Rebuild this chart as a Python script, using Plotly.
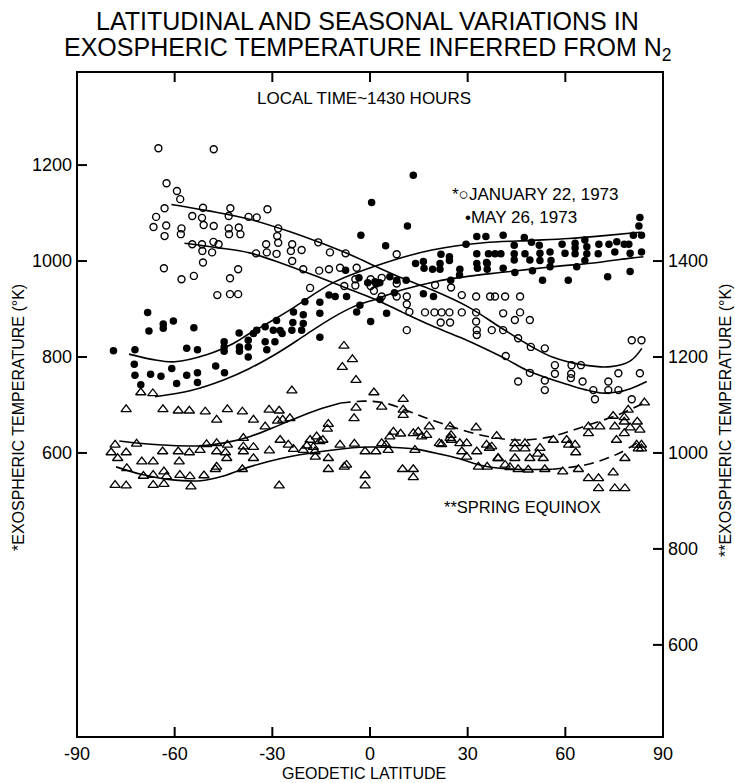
import plotly.graph_objects as go

# ---------------- data ----------------
# January 22, 1973  (open circles, left axis, deg K)
jan_lat = [-65, -48, -62.5, -59.3, -58.3, -63.1, -65.7, -66.5, -62.6, -63.1, -57.9, -58.1, -54.6, -51.3,
           -51.6, -51.1, -48, -43.4, -42.9, -43.4, -43.3, -40.3, -39.8, -37.3, -63.3, -57.9, -54.1, -54.6,
           -51.6, -51.5, -51.3, -48.5, -48.1, -46.5, -43, -40.5, -46.9, -43, -40.5,
           -31.5, -34.8, -28.2, -28.5, -28.2, -31.9, -31.7, -28.7, -35, -23.9, -24.3, -21, -23.9, -20.5,
           -15.9, -12.3, -15.6, -12.6, -9.2, -7.5, -18.4, -4.1, -4.5, -4.5, -7.9, 0.2, 0.2, 3.6, 1.2, 3.6,
           8.2, 8.2, 8.2, 11.3, 11.3, 12.1, 11.3, 16.9, 19.8, 22, 24.4, 21.7, 24.6, 20, 24.9, 28.2, 28.2,
           32.6, 32.6, 32.6, 32.8, 32.8,
           36.9, 38.4, 41.5, 46.1, 40.9, 46.1, 44.5, 49.1, 37.4, 40.9, 45.5, 80.4, 83.4,
           49.4, 53.7, 41.7, 56.8, 61.9, 64.8, 49.1, 56.8, 61.8, 61.7, 65.3, 45.5, 53.7, 53.7, 68.6, 69.1,
           73.2, 73.2, 76.3, 76.3, 82.9, 80.4]
jan_temp = [1235, 1233, 1162, 1146, 1129, 1110, 1092, 1071, 1074, 1052, 1068, 1056, 1094, 1111,
            1090, 1075, 1073, 1094, 1110, 1068, 1056, 1070, 1056, 1092, 985, 962, 969, 1035,
            1035, 1021, 997, 1018, 1040, 1035, 964, 983, 929, 931, 931,
            1108, 1091, 1068, 1052, 1038, 1035, 1018, 1015, 1016, 1035, 1021, 1023, 1000, 983,
            1039, 1018, 980, 983, 986, 1016, 944, 986, 962, 949, 948, 962, 948, 965, 938, 926,
            1014, 953, 926, 926, 910, 894, 856, 893, 893, 893, 893, 872, 872, 950, 945, 929, 893,
            926, 893, 874, 856, 846,
            926, 926, 926, 926, 891, 893, 877, 877, 856, 856, 839, 835, 835,
            821, 818, 802, 783, 783, 783, 767, 765, 765, 756, 749, 749, 751, 731, 731, 712,
            749, 731, 731, 766, 766, 712]

# May 26, 1973  (filled circles, left axis, deg K)
may_lat = [-68.3, -67.9, -63.5, -63.5, -60.4, -54.1, -40.2, -78.8, -72.2, -56.3, -53, -72.4, -72.2, -67.4,
           -64.2, -60.9, -59.4, -56.3, -53, -53, -70.4, -47.4, -44.7, -44.8, -44.8, -44.8, -40.1, -40.1,
           -37.4, -37.4, -37.4, -35.8, -32.2, -29.2, -31.7, -27, -15.4,
           13.3, 0.5, 11.5, -2.8, 4.8, 14, 16.4, 16.6, 19.2, 21.8, 21.5, 21.5, 24.4, 24.4, 27.6, 27.5,
           24.8, 29.5, 32.8, 35.6, 32.8, 36.4, 32.8, 33, 36, 36, -7.5, -3.4, 1.5, 1.9, -0.7, 3, 6.1, 8.2,
           11.1, 7.5, 3.1, 5.1, 0.2, 16.4, 19.5, -3.1, -7.2, -10.7, -12.6, -15.4, -20, -23.5, -20.5,
           -15.4, -20.5, -23.7, -24, -21, -28.7, -29.7, -27.6, -32.2, -34.8, -4.1,
           82.9, 82.6, 80.9, 83.4, 83.4, 79.9, 79.9, 73, 60.9, 53, 40.9, 47.4, 44.3, 49.6, 52, 59, 63,
           63, 66, 66.6, 70.3, 73.4, 75.8, 78.1, 79.5, 38.4, 40.2, 44.3, 47.6, 52.2, 55.3, 59.9, 63,
           66.6, 70.1, 75.2, 44.3, 49.1, 52.2, 55.6, 35.8, 40.9, 44.5, 49.9, 55.3, 63.5, 66]
may_temp = [893, 854, 869, 860, 875, 861, 850, 813, 815, 818, 815, 785, 762, 764,
            760, 776, 745, 762, 767, 747, 742, 781, 767, 832, 821, 812, 821, 812,
            835, 821, 800, 849, 832, 832, 815, 849, 841,
            1179, 1122, 1073, 1054, 1032, 995, 999, 985, 983, 1014, 995, 983, 1009, 1001, 983, 971,
            960, 1035, 1051, 1051, 1015, 1015, 995, 985, 995, 983, 981, 965, 957, 952, 955, 955, 967, 960,
            960, 934, 920, 891, 874, 932, 926, 908, 926, 926, 929, 914, 915, 894, 888,
            891, 870, 872, 856, 856, 876, 856, 855, 863, 856, 894,
            1091, 1073, 1054, 1054, 1019, 1016, 978, 967, 960, 960, 1054, 1049, 1033, 1039, 1033, 1035, 1037,
            1027, 1044, 1030, 1035, 1035, 1040, 1035, 1035, 1015, 1015, 1015, 1015, 1016, 1019, 1016, 1015,
            1015, 1015, 1019, 1002, 1002, 1001, 1001, 997, 985, 976, 980, 988, 988, 1001]

# Spring equinox (open triangles, right axis, deg K)
eq_lat = [-70.4, -66.7, -74.9, -63.6, -58.9, -55.5, -50.6, -47.1, -43.8, -39.2, -78.3, -79.5, -77.5, -74.9,
          -71.7, -70.1, -66.6, -63.7, -58.9, -55.5, -52.2, -50.2, -47.1, -47.1, -43.8, -44.4, -44, -38.9,
          -38.9, -38.9, -58.6, -74.7, -69.6, -66.6, -63.3, -62.5, -58.4, -55.3, -51, -47.1, -47.5, -39.2,
          -78.3, -74.9, -66.6, -63.3, -55,
          -8, -5.4, -8.5, -4.3, -24, 1.2, 10.2, -4.3, 3.6, 10.2, 10.2, -4.9, -31, -27.9, -35.8, -28.4,
          -26.8, -24.6, -32.2, -12.8, -13.1, -27.6, -30.9, -35.8, -35.8, -25.1, -23.5, -18.4, -16.4,
          -15.4, -19.4, -17.4, -20.5, -16.9, -14.5, -16.8, -12.8, -12.8, -7.2, -7.9, -9.2, -4.8, -1.5,
          1.8, 3.6, 4.9, 5.6, -1.5, -1.5, -27.9, 6.1, 7.2, 9.4, 13.3, 14.8, 15.9, 17.4, 18.2, 13.8, 10,
          13.3, 13.3, 21.3, 22, 24.6, 24.9, 24.6, 25, 27.6, 29.7, 32.6, 28.2, 29.7, 32.8, 35.8, 36.7,
          38.9, 39.3, 33.3, 36,
          37.4, 44.5, 47.6, 44.5, 47.6, 52.2, 51.5, 44.5, 49.1, 53.2, 39.4, 56.3, 60.4, 61, 63, 63.2,
          67.1, 67.1, 70.6, 74.7, 75.2, 75.7, 78.1, 78.1, 79.9, 82.1, 82.9, 78.1, 84.3, 79.3, 81.9, 83.4,
          83.4, 82.4, 78.3, 74.7, 67.1, 70.2, 70.2, 75.2, 78.3, 59.2, 64, 53.7, 48.6, 45.5, 41.5, 43]
eq_temp = [1126, 1124, 1091, 1091, 1088, 1088, 1086, 1069, 1091, 1086, 1017, 1001, 989, 1001,
           1019, 982, 982, 1003, 1003, 1001, 1006, 1018, 1020, 1003, 1017, 1001, 989, 1031,
           1013, 1003, 982, 968, 952, 954, 961, 951, 954, 951, 953, 971, 966, 966,
           933, 932, 933, 935, 930,
           1223, 1195, 1179, 1152, 1130, 1126, 1112, 1094, 1096, 1090, 1079, 1072, 1090, 1088, 1069, 1067,
           1069, 1072, 1055, 1060, 1050, 1027, 1005, 1012, 989, 1017, 1008, 1027, 1034,
           1024, 1015, 1012, 1006, 1003, 1027, 992, 989, 966, 975, 971, 1017, 1019, 1003,
           1003, 1020, 1017, 1006, 953, 932, 932, 1034, 1044, 1040, 1041, 1044, 1034, 1037, 1055, 1006, 966,
           966, 949, 1020, 1018, 1055, 1037, 1031, 1027, 1020, 1020, 1053, 1003, 992, 1003, 1017, 1010,
           1035, 989, 971, 971,
           1013, 1020, 1020, 1009, 1009, 1010, 998, 989, 989, 989, 989, 1027, 1027, 1017, 1017, 1001,
           1055, 1041, 1055, 1077, 1055, 1027, 1074, 1065, 1053, 1065, 1048, 1041, 1105, 1090, 1017, 1017,
           1009, 1009, 989, 959, 947, 947, 926, 926, 926, 961, 966, 966, 965, 966, 975, 970]

# Fitted curves
jan_hi_lat = [-61, -50, -37, -25, -16, -5, 2, 10, 19, 30, 40, 48, 56, 66, 74, 80, 83.5]
jan_hi_t = [1118, 1105, 1087, 1062, 1040, 1010, 988, 964, 940, 905, 862, 828, 800, 783, 780, 792, 818]
jan_lo_lat = [-57, -47, -37, -27, -16, -7, 2, 10, 19, 28, 36, 42, 48, 55, 61, 66, 71, 76, 80, 85]
jan_lo_t = [1037, 1028, 1017, 995, 967, 943, 919, 893, 865, 840, 815, 795, 773, 755, 742, 732, 725, 727, 734, 749]
may_hi_lat = [-74, -67, -60, -50, -42, -37, -30, -23, -11, 4, 19, 35, 50, 61, 72, 83]
may_hi_t = [806, 795, 790, 805, 828, 849, 876, 905, 956, 995, 1023, 1038, 1043, 1047, 1053, 1060]
may_lo_lat = [-66, -55, -45, -37, -28, -20, -12, -5, 2, 10, 20, 30, 40, 56, 70, 80, 84]
may_lo_t = [717, 730, 752, 776, 810, 845, 880, 905, 921, 940, 957, 968, 976, 988, 997, 1006, 1009]
eq_hi_lat = [-77, -65, -52, -44, -37, -30, -24, -16, -9, -2, 4, 10, 16, 25, 35, 45, 55, 66, 76, 85]
eq_hi_t = [1025, 1017, 1015, 1022, 1034, 1052, 1069, 1090, 1104, 1108, 1105, 1092, 1076, 1055, 1036,
           1027, 1033, 1056, 1079, 1107]
eq_lo_lat = [-78, -70, -62, -52, -45, -37, -27, -15, -3, 5, 14, 22, 27, 35, 45, 56, 66, 72, 77, 83]
eq_lo_t = [971, 955, 945, 942, 952, 971, 989, 1003, 1012, 1012, 1008, 997, 989, 973, 966, 966, 975,
           987, 1001, 1025]
eq_hi_dash_from = -9    # upper equinox curve dashed north of this latitude
eq_lo_dash_from = 56    # lower equinox curve dashed north of this latitude

x_ticks = [-90, -60, -30, 0, 30, 60, 90]
left_ticks = [600, 800, 1000, 1200]
right_ticks = [600, 800, 1000, 1200, 1400]

# ---------------- figure ----------------
FONT = "Liberation Sans"
W, H = 735, 783
ML, MR, MT, MB = 77, 72, 72, 46
PW, PH = W - ML - MR, H - MT - MB
TICK = 10  # tick length, px
X_RANGE = [-90, 90]
Y_RANGE = [8, 1394]
Y2_RANGE = [408, 1794]

fig = go.Figure()

def curve(x, y, yaxis="y", dash="solid", width=1.6, smooth=True):
    fig.add_trace(go.Scatter(x=x, y=y, mode="lines", yaxis=yaxis, connectgaps=False,
                             line=dict(color="black", width=width, dash=dash,
                                       shape="spline" if smooth else "linear",
                                       **({"smoothing": 1.0} if smooth else {})),
                             showlegend=False, hoverinfo="skip"))

fig.add_trace(go.Scatter(x=jan_lat, y=jan_temp, mode="markers", name="January 22, 1973",
                         marker=dict(symbol="circle-open", size=7, color="black", line=dict(width=1.4)),
                         showlegend=False))
fig.add_trace(go.Scatter(x=may_lat, y=may_temp, mode="markers", name="May 26, 1973",
                         marker=dict(symbol="circle", size=7.5, color="black"),
                         showlegend=False))
fig.add_trace(go.Scatter(x=eq_lat, y=eq_temp, mode="markers", yaxis="y2", name="Spring equinox",
                         marker=dict(symbol="triangle-up-open", size=9, color="black", line=dict(width=1.3)),
                         showlegend=False))

curve(jan_hi_lat, jan_hi_t)
curve(jan_lo_lat, jan_lo_t)
curve(may_hi_lat, may_hi_t)
curve(may_lo_lat, may_lo_t)

def split(lat, t, at):
    a = [(x, y) for x, y in zip(lat, t) if x <= at]
    b = [(x, y) for x, y in zip(lat, t) if x >= at]
    return a, b

a, b = split(eq_hi_lat, eq_hi_t, eq_hi_dash_from)
curve([p[0] for p in a], [p[1] for p in a], "y2")
curve([p[0] for p in b], [p[1] for p in b], "y2", dash="10px,6px")
a, b = split(eq_lo_lat, eq_lo_t, eq_lo_dash_from)
curve([p[0] for p in a], [p[1] for p in a], "y2")
curve([p[0] for p in b], [p[1] for p in b], "y2", dash="10px,6px")

# inward tick marks at the tick values (drawn as line traces on the axes' own scales)
dy = TICK / PH * (Y_RANGE[1] - Y_RANGE[0])
dx = TICK / PW * (X_RANGE[1] - X_RANGE[0])
tx, ty = [], []
for v in x_ticks[1:-1]:
    tx += [v, v, None, v, v, None]
    ty += [Y_RANGE[0], Y_RANGE[0] + dy, None, Y_RANGE[1], Y_RANGE[1] - dy, None]
for v in left_ticks:
    tx += [X_RANGE[0], X_RANGE[0] + dx, None]
    ty += [v, v, None]
curve(tx, ty, width=2, smooth=False)
rx, ry = [], []
for v in right_ticks:
    rx += [X_RANGE[1], X_RANGE[1] - dx, None]
    ry += [v, v, None]
curve(rx, ry, yaxis="y2", width=2, smooth=False)

fig.update_layout(
    width=W, height=H,
    margin=dict(l=ML, r=MR, t=MT, b=MB),
    paper_bgcolor="white", plot_bgcolor="white",
    showlegend=False,
    xaxis=dict(range=X_RANGE, tickmode="array", tickvals=x_ticks,
               ticktext=[str(v) for v in x_ticks]),
    yaxis=dict(range=Y_RANGE, tickmode="array", tickvals=left_ticks),
    yaxis2=dict(range=Y2_RANGE, tickmode="array", tickvals=right_ticks,
                overlaying="y", side="right", anchor="x"),
)
axis_style = dict(showgrid=False, zeroline=False, showline=False, ticks="", ticklabelstandoff=4,
                  tickfont=dict(family=FONT, size=18, color="black"))
fig.update_xaxes(**axis_style)
fig.update_yaxes(**axis_style)

# plot frame
fig.add_shape(type="rect", xref="paper", yref="paper", x0=0, x1=1, y0=0, y1=1,
              line=dict(color="black", width=2), fillcolor="rgba(0,0,0,0)", layer="above")

def note(text, x, y, size, xanchor="center", angle=0):
    fig.add_annotation(text=text, x=x, y=y, xref="paper", yref="paper", showarrow=False,
                       xanchor=xanchor, yanchor="middle", textangle=angle,
                       font=dict(family=FONT, size=size, color="black"))

def px_x(p):   # pixel -> paper
    return (p - ML) / PW

def px_y(p):
    return (H - MB - p) / PH

note("LATITUDINAL AND SEASONAL VARIATIONS IN", px_x(367), px_y(21), 25)
note("EXOSPHERIC TEMPERATURE INFERRED FROM N<sub>2</sub>", px_x(367), px_y(49), 25)
note("LOCAL TIME~1430 HOURS", px_x(364), px_y(98), 17)
note("*○JANUARY 22, 1973", px_x(450), px_y(195), 17, xanchor="left")
note("•MAY 26, 1973", px_x(463), px_y(217), 17, xanchor="left")
note("**SPRING EQUINOX", px_x(442), px_y(507), 16.5, xanchor="left")
note("GEODETIC LATITUDE", px_x(364), px_y(773), 16)
note("*EXOSPHERIC TEMPERATURE (°K)", px_x(18), px_y(418), 16, angle=-90)
note("**EXOSPHERIC TEMPERATURE (°K)", px_x(725), px_y(421), 16, angle=-90)

fig.write_html("out.html")
